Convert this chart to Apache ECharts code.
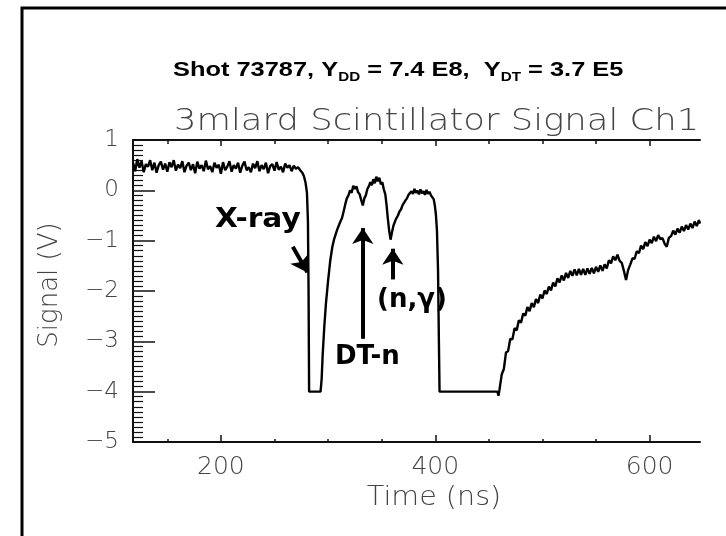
<!DOCTYPE html>
<html>
<head>
<meta charset="utf-8">
<script src="https://cdn.jsdelivr.net/npm/echarts@6/dist/echarts.min.js"></script>
<style>
html,body{margin:0;padding:0;background:#fff;}
#chart{width:726px;height:536px;}
</style>
</head>
<body>
<div id="chart"></div>
<script>
// ---- data ----
var timeNs = [
118,120,122,124,126,128,130,132,134,136,138,140,142,144,146,148,150,152,154,156,
158,160,162,164,166,168,170,172,174,176,178,180,182,184,186,188,190,192,194,196,
198,200,202,204,206,208,210,212,214,216,218,220,222,224,226,228,230,232,234,236,
238,240,242,244,246,248,250,252,254,256,258,260,262,264,266,268,270,272,274,276,
277.5,279,280.3,281.2,281.8,282.3,293.0,294.0,295.0,296.5,298.0,300.0,302.0,304.0,305.5,307.0,308.5,310.0,311.5,313.0,
314.5,316.0,317.5,319.0,320.5,322.0,323.5,325.0,326.5,328.0,329.5,331.0,332.4,333.8,335.2,336.6,338.0,339.4,340.8,342.2,
343.6,345.0,346.4,347.8,349.2,350.6,352.0,353.4,354.6,355.7,357.0,358.3,359.5,361.0,362.4,363.8,365.2,366.6,368.0,369.4,
370.8,372.2,373.6,375.0,376.4,377.8,379.2,380.6,382.0,383.4,384.8,386.2,387.6,389.0,390.4,391.8,393.2,394.6,396.0,397.4,
398.6,399.6,400.6,401.6,402.6,403.4,404.0,458.0,459.0,460.0,
462,464,466,468,470,472,474,476,478,480,482,484,486,488,490,492,494,496,498,500,
502,504,506,508,510,512,514,516,518,520,522,524,526,528,530,532,534,536,538,540,
542,544,546,548,550,552,554,556,558,560,562,564,566,568,570,572,574,576,578,580,
582,584,586,588,590,592,594,596,598,600,602,604,606,608,610,612,614,616,618,620,
622,624,626,628,630,632,634,636,638,640,642,644,646,647
];
var signalV = [
0.55,0.38,0.62,0.45,0.58,0.36,0.52,0.47,0.60,0.40,0.55,0.35,0.50,0.57,0.41,0.53,0.37,0.56,0.46,0.60,
0.39,0.51,0.44,0.58,0.36,0.49,0.55,0.40,0.52,0.34,0.57,0.43,0.50,0.38,0.59,0.42,0.48,0.36,0.55,0.45,
0.51,0.33,0.56,0.40,0.47,0.58,0.37,0.50,0.43,0.55,0.35,0.49,0.57,0.40,0.46,0.36,0.53,0.44,0.58,0.38,
0.50,0.42,0.55,0.34,0.48,0.52,0.39,0.56,0.41,0.47,0.36,0.53,0.45,0.50,0.38,0.49,0.43,0.46,0.40,0.35,
0.28,0.15,-0.05,-0.6,-2.0,-4.0,-4.0,-3.75,-3.25,-2.7,-2.25,-1.8,-1.4,-1.12,-0.98,-0.88,-0.78,-0.70,-0.62,-0.55,
-0.42,-0.28,-0.16,-0.10,0.0,-0.05,0.09,0.03,0.08,-0.04,-0.08,-0.20,-0.30,-0.16,-0.10,0.02,0.08,0.16,0.10,0.22,
0.14,0.27,0.18,0.25,0.12,0.16,0.02,-0.08,-0.30,-0.55,-0.80,-0.98,-0.85,-0.70,-0.62,-0.55,-0.50,-0.42,-0.38,-0.30,
-0.27,-0.20,-0.16,-0.09,-0.12,-0.02,-0.07,0.03,-0.05,-0.01,-0.08,0.02,-0.06,-0.02,-0.09,0.01,-0.07,-0.03,-0.10,-0.08,
-0.18,-0.30,-0.48,-0.80,-1.6,-3.0,-4.0,-4.0,-4.08,-3.95,
-3.66,-3.55,-3.22,-3.19,-2.95,-2.96,-2.74,-2.78,-2.58,-2.63,-2.45,-2.49,-2.32,-2.40,-2.24,-2.32,-2.16,-2.24,-2.07,-2.15,
-1.99,-2.06,-1.91,-1.99,-1.83,-1.91,-1.75,-1.83,-1.69,-1.79,-1.64,-1.74,-1.60,-1.70,-1.57,-1.69,-1.56,-1.68,-1.56,-1.68,
-1.55,-1.66,-1.54,-1.65,-1.52,-1.62,-1.49,-1.60,-1.47,-1.55,-1.39,-1.45,-1.31,-1.39,-1.28,-1.40,-1.44,-1.60,-1.78,-1.58,
-1.47,-1.35,-1.36,-1.21,-1.25,-1.10,-1.17,-1.03,-1.11,-0.98,-1.05,-0.92,-1.01,-0.89,-0.97,-0.95,-1.06,-1.12,-0.94,-0.91,
-0.80,-0.88,-0.76,-0.84,-0.72,-0.81,-0.69,-0.78,-0.66,-0.75,-0.62,-0.71,-0.59,-0.66
];
var xMajorTicks = [200, 400, 600];
var xMinorTicks = [150, 250, 300, 350, 450, 500, 550];
var xRange = [118, 647];
var yRange = [-5, 1];
// annotation arrows: [tailTime, tailSignal, headTime, headSignal]
var arrowXray = [267.1, -1.12, 280.7, -1.63];
var arrowDTn = [332.4, -2.95, 332.4, -0.75];
var arrowNg = [360.4, -1.77, 360.4, -1.16];

var titleText = '{a|Shot 73787, Y}{s|DD}{a| = 7.4 E8,  Y}{s|DT}{a| = 3.7 E5}';
var subTitle = '3mlard Scintillator Signal Ch1';
var xName = 'Time (ns)';
var yName = 'Signal (V)';

// ---- chart ----
var data = timeNs.map(function (t, i) { return [t, signalV[i]]; });
function arrowPair(a) { return [{ coord: [a[0], a[1]] }, { coord: [a[2], a[3]] }]; }

var axisGray = '#444';
var tickStyle = { color: '#111', width: 1.5 };
function xAx(pos, ticks, len, showLine, showLabels) {
  return {
    type: 'value', position: pos, min: xRange[0], max: xRange[1],
    axisLine: { show: showLine, onZero: false, lineStyle: { color: '#111', width: 2 } },
    axisTick: { show: true, inside: true, length: len, customValues: ticks, lineStyle: tickStyle },
    axisLabel: showLabels ? {
      show: true, customValues: ticks, fontSize: 25, color: axisGray,
      fontFamily: 'DejaVu Sans', fontWeight: 300, margin: 13
    } : { show: false },
    splitLine: { show: false }
  };
}

var option = {
  animation: false,
  backgroundColor: '#fff',
  grid: { left: 133, top: 140, right: 26, bottom: 94, containLabel: false },
  xAxis: [
    xAx('bottom', xMajorTicks, 7, true, true),
    xAx('bottom', xMinorTicks, 3, false, false),
    xAx('top', xMajorTicks, 6, true, false),
    xAx('top', xMinorTicks, 4, false, false)
  ],
  yAxis: [{
    type: 'value', min: yRange[0], max: yRange[1], interval: 1,
    axisLine: { show: true, onZero: false, lineStyle: { color: '#111', width: 2 } },
    axisTick: { show: true, inside: true, length: 22, lineStyle: tickStyle },
    minorTick: { show: true, splitNumber: 10, length: 10, lineStyle: { color: '#111', width: 1.2 } },
    axisLabel: {
      fontSize: 23, color: axisGray, fontFamily: 'DejaVu Sans', fontWeight: 300, margin: 14,
      formatter: function (v) { return v < 0 ? '\u2212' + Math.abs(v) : String(v); }
    },
    splitLine: { show: false }
  }],
  series: [{
    type: 'line', xAxisIndex: 0, yAxisIndex: 0, data: data,
    showSymbol: false, symbol: 'none',
    lineStyle: { color: '#000', width: 2.4 },
    markLine: {
      silent: true, animation: false,
      symbol: ['none', 'arrow'], symbolSize: 16,
      label: { show: false },
      lineStyle: { color: '#000', width: 4, type: 'solid' },
      data: [arrowPair(arrowXray), arrowPair(arrowDTn), arrowPair(arrowNg)]
    }
  }],
  graphic: [
    { type: 'rect', shape: { x: 22, y: 8, width: 900, height: 800 },
      style: { fill: 'none', stroke: '#000', lineWidth: 3 }, silent: true },
    { type: 'text', x: 173, y: 70, scaleX: 1.27,
      style: { text: titleText, align: 'left', verticalAlign: 'middle', fill: '#000',
        rich: {
          a: { fontSize: 20, fontWeight: 'bold', fontFamily: 'Liberation Sans', lineHeight: 28, verticalAlign: 'middle' },
          s: { fontSize: 12, fontWeight: 'bold', fontFamily: 'Liberation Sans', lineHeight: 28, verticalAlign: 'bottom' }
        } } },
    { type: 'text', x: 174, y: 122, scaleX: 1.18,
      style: { text: subTitle, align: 'left', verticalAlign: 'middle', fill: axisGray,
        fontSize: 30, fontFamily: 'DejaVu Sans', fontWeight: 200 } },
    { type: 'text', x: 434, y: 498, scaleX: 1.1,
      style: { text: xName, align: 'center', verticalAlign: 'middle', fill: axisGray,
        fontSize: 26, fontFamily: 'DejaVu Sans', fontWeight: 300 } },
    { type: 'text', x: 50, y: 285, rotation: Math.PI / 2,
      style: { text: yName, align: 'center', verticalAlign: 'middle', fill: axisGray,
        fontSize: 26, fontFamily: 'DejaVu Sans', fontWeight: 300 } },
    { type: 'text', x: 215, y: 220, scaleX: 1.14,
      style: { text: 'X-ray', align: 'left', verticalAlign: 'middle', fill: '#000',
        fontSize: 26, fontFamily: 'DejaVu Sans', fontWeight: 'bold' } },
    { type: 'text', x: 335, y: 357,
      style: { text: 'DT-n', align: 'left', verticalAlign: 'middle', fill: '#000',
        fontSize: 26, fontFamily: 'DejaVu Sans', fontWeight: 'bold' } },
    { type: 'text', x: 377, y: 300,
      style: { text: '(n,\u03b3)', align: 'left', verticalAlign: 'middle', fill: '#000',
        fontSize: 26, fontFamily: 'DejaVu Sans', fontWeight: 'bold' } }
  ]
};

var chart = echarts.init(document.getElementById('chart'), null, { renderer: 'canvas' });
chart.setOption(option);
</script>
</body>
</html>
